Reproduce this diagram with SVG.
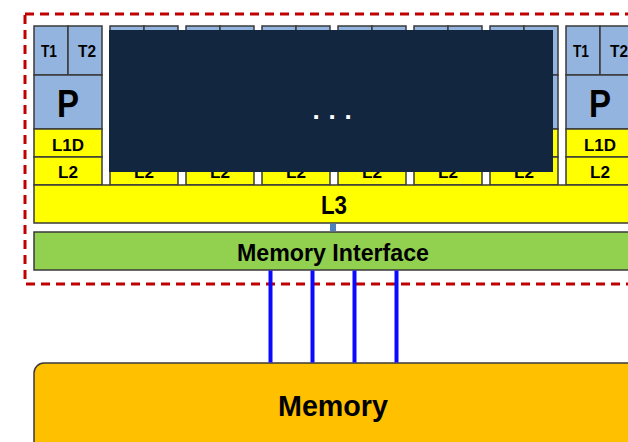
<svg xmlns="http://www.w3.org/2000/svg" width="628" height="442" viewBox="0 0 628 442">
<defs>
<style>
.blue{fill:#93b4df;stroke:#3a3a3a;stroke-width:1.5}
.yel{fill:#ffff00;stroke:#3a3a3a;stroke-width:1.5}
.t{font-family:"Liberation Sans",Arial,sans-serif;fill:#000;text-anchor:middle}
.tt{font-size:17px;font-weight:bold}
.p{font-size:39px;font-weight:bold}
.c{font-size:17px;font-weight:bold}
.bus{stroke:#0a0aff;stroke-width:4;fill:none}
</style>
<g id="coreTpl">
<rect class="blue" x="0" y="0" width="34" height="49"/>
<rect class="blue" x="34" y="0" width="34" height="49"/>
<rect class="blue" x="0" y="49" width="68" height="54"/>
<rect class="yel" x="0" y="103" width="68" height="28"/>
<rect class="yel" x="0" y="131" width="68" height="28"/>
<text class="t tt" x="15" y="31" textLength="16" lengthAdjust="spacingAndGlyphs">T1</text>
<text class="t tt" x="53" y="31" textLength="18" lengthAdjust="spacingAndGlyphs">T2</text>
<text class="t p" x="34" y="91" textLength="22" lengthAdjust="spacingAndGlyphs">P</text>
<text class="t c" x="34" y="125" textLength="32" lengthAdjust="spacingAndGlyphs">L1D</text>
<text class="t c" x="34" y="152" textLength="20" lengthAdjust="spacingAndGlyphs">L2</text>
</g>
</defs>
<rect width="628" height="442" fill="#fff"/>
<g id="chip">
<rect x="25" y="14" width="620" height="270" fill="none" stroke="#c00000" stroke-width="3" stroke-dasharray="9 6"/>
</g>
<g id="core1"><use href="#coreTpl" transform="translate(34,26)"/></g>
<g id="core2"><use href="#coreTpl" transform="translate(110,26)"/></g>
<g id="core3"><use href="#coreTpl" transform="translate(186,26)"/></g>
<g id="core4"><use href="#coreTpl" transform="translate(262,26)"/></g>
<g id="core5"><use href="#coreTpl" transform="translate(338,26)"/></g>
<g id="core6"><use href="#coreTpl" transform="translate(414,26)"/></g>
<g id="core7"><use href="#coreTpl" transform="translate(490,26)"/></g>
<g id="core8"><use href="#coreTpl" transform="translate(566,26)"/></g>
<g id="cover">
<rect x="109" y="30" width="444" height="142" fill="#12263f"/>
<text x="312.5" y="119" font-family="Liberation Sans,Arial,sans-serif" font-size="26" font-weight="bold" fill="#fff"><tspan x="312.5">.</tspan><tspan x="328.5">.</tspan><tspan x="344.5">.</tspan></text>
</g>
<g id="l3">
<rect class="yel" x="34" y="185" width="598" height="38"/>
<text class="t" x="334" y="214" font-size="26" font-weight="bold" textLength="26" lengthAdjust="spacingAndGlyphs">L3</text>
</g>
<g id="memif">
<rect x="34" y="232" width="598" height="38" fill="#92d050" stroke="#3a3a3a" stroke-width="1.5"/>
<text class="t" x="333" y="261" font-size="23" font-weight="bold" textLength="192" lengthAdjust="spacingAndGlyphs">Memory Interface</text>
</g>
<g id="memory">
<rect x="34" y="363" width="610" height="100" rx="10" fill="#ffc000" stroke="#3a3a3a" stroke-width="1.5"/>
<text class="t" x="333" y="416" font-size="30" font-weight="bold" textLength="110" lengthAdjust="spacingAndGlyphs">Memory</text>
</g>
<g id="connectors">
<rect x="330" y="223.75" width="6" height="7.5" fill="#4f81bd"/>
<line class="bus" x1="270.5" y1="270.5" x2="270.5" y2="362.5"/>
<line class="bus" x1="312.5" y1="270.5" x2="312.5" y2="362.5"/>
<line class="bus" x1="354.5" y1="270.5" x2="354.5" y2="362.5"/>
<line class="bus" x1="396.5" y1="270.5" x2="396.5" y2="362.5"/>
</g>
</svg>
